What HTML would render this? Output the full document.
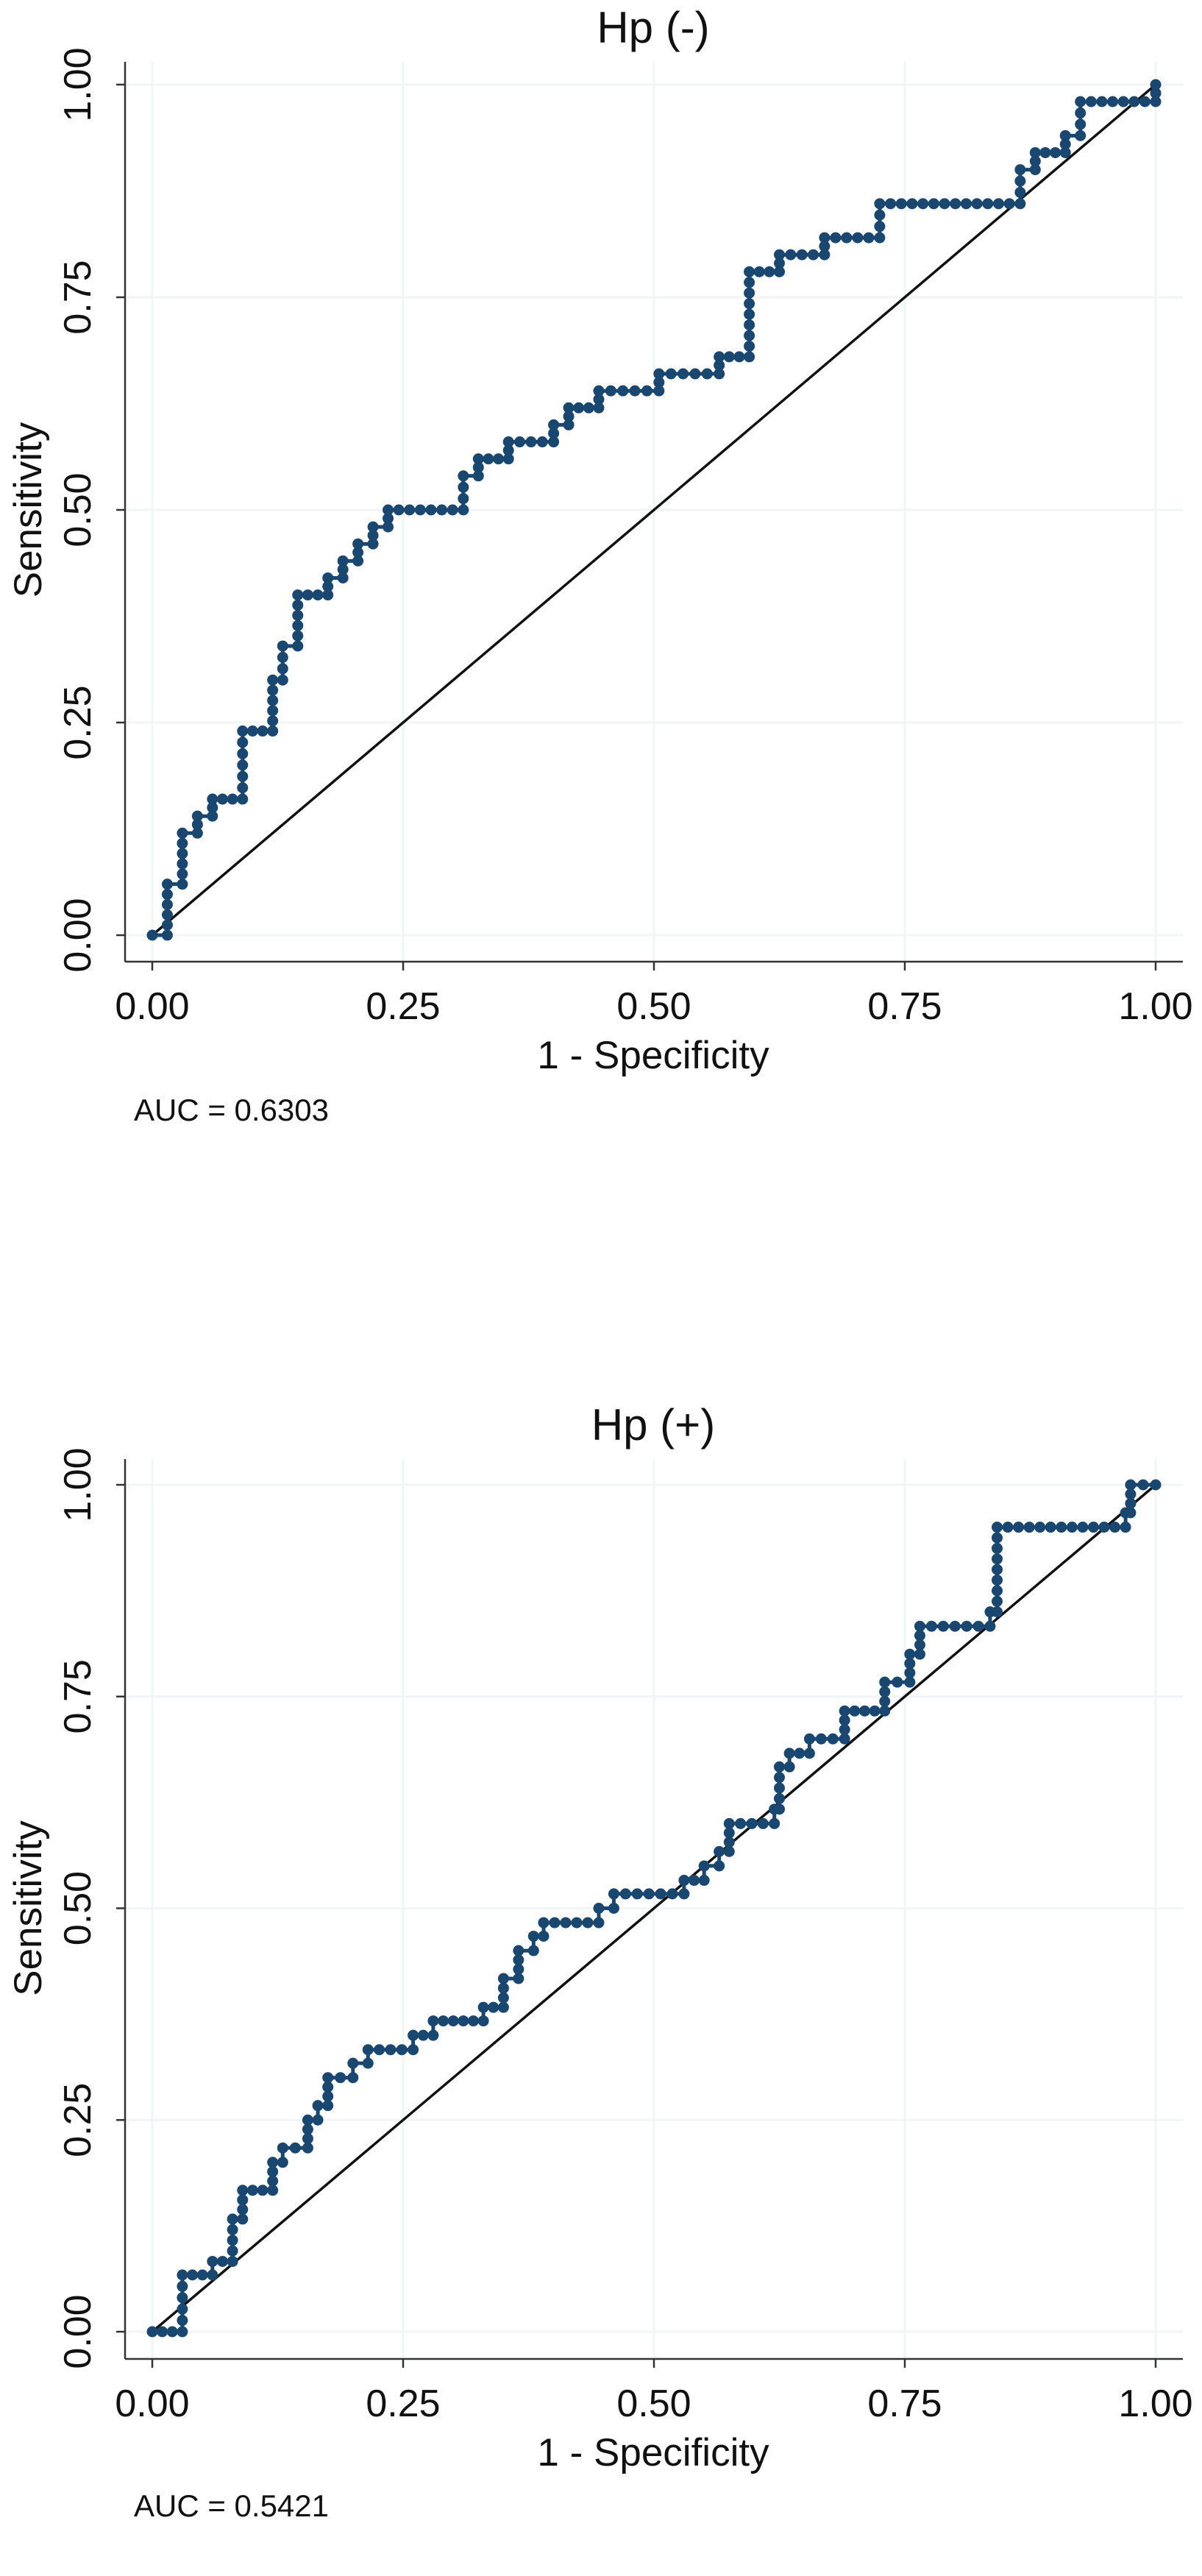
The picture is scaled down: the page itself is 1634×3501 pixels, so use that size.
<!DOCTYPE html>
<html><head><meta charset="utf-8"><style>
html,body{margin:0;padding:0;background:#fff;}
svg{display:block;}
text{font-family:"Liberation Sans",Arial,sans-serif;fill:#111;}
</style></head><body>
<svg id="chart" width="1634" height="3501" viewBox="0 0 1634 3501" xmlns="http://www.w3.org/2000/svg"></svg>
<script>
// Shared tick values
const tickValues = [0, 0.25, 0.5, 0.75, 1];
const tickLabels = ["0.00", "0.25", "0.50", "0.75", "1.00"];

// Hp (-) ROC curve vertices
const hpNegFpr = [0,0.015,0.015,0.03,0.03,0.045,0.045,0.06,0.06,0.09,0.09,0.12,0.12,0.13,0.13,0.145,0.145,0.175,0.175,0.19,0.19,0.205,0.205,0.22,0.22,0.235,0.235,0.31,0.31,0.325,0.325,0.355,0.355,0.4,0.4,0.415,0.415,0.445,0.445,0.505,0.505,0.565,0.565,0.595,0.595,0.625,0.625,0.67,0.67,0.725,0.725,0.865,0.865,0.88,0.88,0.91,0.91,0.925,0.925,1,1];
const hpNegTpr = [0,0,0.06,0.06,0.12,0.12,0.14,0.14,0.16,0.16,0.24,0.24,0.30,0.30,0.34,0.34,0.40,0.40,0.42,0.42,0.44,0.44,0.46,0.46,0.48,0.48,0.50,0.50,0.54,0.54,0.56,0.56,0.58,0.58,0.60,0.60,0.62,0.62,0.64,0.64,0.66,0.66,0.68,0.68,0.78,0.78,0.80,0.80,0.82,0.82,0.86,0.86,0.90,0.90,0.92,0.92,0.94,0.94,0.98,0.98,1];
const hpNegAuc = "AUC = 0.6303";

// Hp (+) ROC curve vertices
const hpPosFpr = [0,0.03,0.03,0.06,0.06,0.08,0.08,0.09,0.09,0.12,0.12,0.13,0.13,0.155,0.155,0.165,0.165,0.175,0.175,0.2,0.2,0.215,0.215,0.26,0.26,0.28,0.28,0.33,0.33,0.35,0.35,0.365,0.365,0.38,0.38,0.39,0.39,0.445,0.445,0.46,0.46,0.53,0.53,0.55,0.55,0.565,0.565,0.575,0.575,0.62,0.62,0.625,0.625,0.635,0.635,0.655,0.655,0.69,0.69,0.73,0.73,0.755,0.755,0.765,0.765,0.835,0.835,0.842,0.842,0.97,0.97,0.975,0.975,1];
const hpPosTpr = [0,0,0.067,0.067,0.083,0.083,0.133,0.133,0.167,0.167,0.2,0.2,0.217,0.217,0.25,0.25,0.267,0.267,0.3,0.3,0.317,0.317,0.333,0.333,0.35,0.35,0.367,0.367,0.383,0.383,0.417,0.417,0.45,0.45,0.467,0.467,0.483,0.483,0.5,0.5,0.517,0.517,0.533,0.533,0.55,0.55,0.567,0.567,0.6,0.6,0.617,0.617,0.667,0.667,0.683,0.683,0.7,0.7,0.733,0.733,0.767,0.767,0.8,0.8,0.833,0.833,0.85,0.85,0.95,0.95,0.967,0.967,1,1];
const hpPosAuc = "AUC = 0.5421";

const NS = "http://www.w3.org/2000/svg";
const svg = document.getElementById("chart");
function mk(tag, attrs, parent) {
  const e = document.createElementNS(NS, tag);
  for (const k in attrs) e.setAttribute(k, attrs[k]);
  (parent || svg).appendChild(e);
  return e;
}

function drawChart(o) {
  const g = mk("g", {});
  
  
  const x0 = 207, x1 = 1571;
  const sx = v => x0 + v * (x1 - x0);
  const sy = v => o.y0 + v * (o.y1 - o.y0);
  const axisLeft = 170;
  tickValues.forEach((v, i) => {
    const gl = mk("line", {x1: axisLeft, x2: 1608, y1: sy(v), y2: sy(v), stroke: "#f2f4f6", "stroke-width": 3}, g);
    
    
    const gv = mk("line", {x1: sx(v), x2: sx(v), y1: o.axisTop, y2: o.axisBottom, stroke: "#f2f4f6", "stroke-width": 3}, g);
    
    
  });
  const ya = mk("line", {x1: axisLeft, x2: axisLeft, y1: o.axisTop, y2: o.axisBottom, stroke: "#333", "stroke-width": 2.5}, g);
  
  
  const xa = mk("line", {x1: axisLeft, x2: 1608, y1: o.axisBottom, y2: o.axisBottom, stroke: "#333", "stroke-width": 2.5}, g);
  
  
  tickValues.forEach((v, i) => {
    mk("line", {x1: axisLeft - 12, x2: axisLeft, y1: sy(v), y2: sy(v), stroke: "#333", "stroke-width": 2.5}, g);
    mk("line", {x1: sx(v), x2: sx(v), y1: o.axisBottom, y2: o.axisBottom + 12, stroke: "#333", "stroke-width": 2.5}, g);
    const yt = mk("text", {x: 0, y: 0, "font-size": 52, "text-anchor": "middle", transform: "translate(123," + sy(v) + ") rotate(-90)"}, g);
    yt.textContent = tickLabels[i];
    
    
    const xt = mk("text", {x: sx(v), y: o.axisBottom + 78, "font-size": 52, "text-anchor": "middle"}, g);
    xt.textContent = tickLabels[i];
    
    
  });
  const diag = mk("line", {x1: sx(0), y1: sy(0), x2: sx(1), y2: sy(1), stroke: "#111", "stroke-width": 3.5}, g);
  
  
  let d = "";
  o.fpr.forEach((v, i) => { d += (i ? "L" : "M") + sx(v).toFixed(1) + " " + sy(o.tpr[i]).toFixed(1); });
  const path = mk("path", {d: d, fill: "none", stroke: "#1a476f", "stroke-width": 5}, g);
  
  
  for (let i = 0; i < o.fpr.length; i++) {
    const m = mk("circle", {cx: sx(o.fpr[i]), cy: sy(o.tpr[i]), r: 7.5, fill: "#1a476f"}, g);
    
    
    if (i > 0) {
      const ax = sx(o.fpr[i-1]), ay = sy(o.tpr[i-1]), bx = sx(o.fpr[i]), by = sy(o.tpr[i]);
      const len = Math.hypot(bx - ax, by - ay);
      const n = Math.round(len / 15);
      for (let k = 1; k < n; k++) {
        const c = mk("circle", {cx: ax + (bx - ax) * k / n, cy: ay + (by - ay) * k / n, r: 7.5, fill: "#1a476f"}, g);
        
        
      }
    }
  }
  const t = mk("text", {x: 888, y: o.titleY, "font-size": 60, "text-anchor": "middle"}, g);
  t.textContent = o.title;
  
  
  const xtl = mk("text", {x: 888, y: o.axisBottom + 145, "font-size": 53, "text-anchor": "middle"}, g);
  xtl.textContent = "1 - Specificity";
  
  
  const ytl = mk("text", {x: 0, y: 0, "font-size": 53, "text-anchor": "middle", transform: "translate(56," + ((o.y0 + o.y1) / 2) + ") rotate(-90)"}, g);
  ytl.textContent = "Sensitivity";
  
  
  const auc = mk("text", {x: 182, y: o.aucY, "font-size": 42}, g);
  auc.textContent = o.auc;
  
  
}

drawChart({name: "chart-hp-negative", title: "Hp (-)", fpr: hpNegFpr, tpr: hpNegTpr, auc: hpNegAuc,
  y0: 1271, y1: 115, axisTop: 84, axisBottom: 1307, titleY: 58, aucY: 1523});
drawChart({name: "chart-hp-positive", title: "Hp (+)", fpr: hpPosFpr, tpr: hpPosTpr, auc: hpPosAuc,
  y0: 3169, y1: 2018, axisTop: 1983, axisBottom: 3206, titleY: 1957, aucY: 3420});
</script>
</body></html>
